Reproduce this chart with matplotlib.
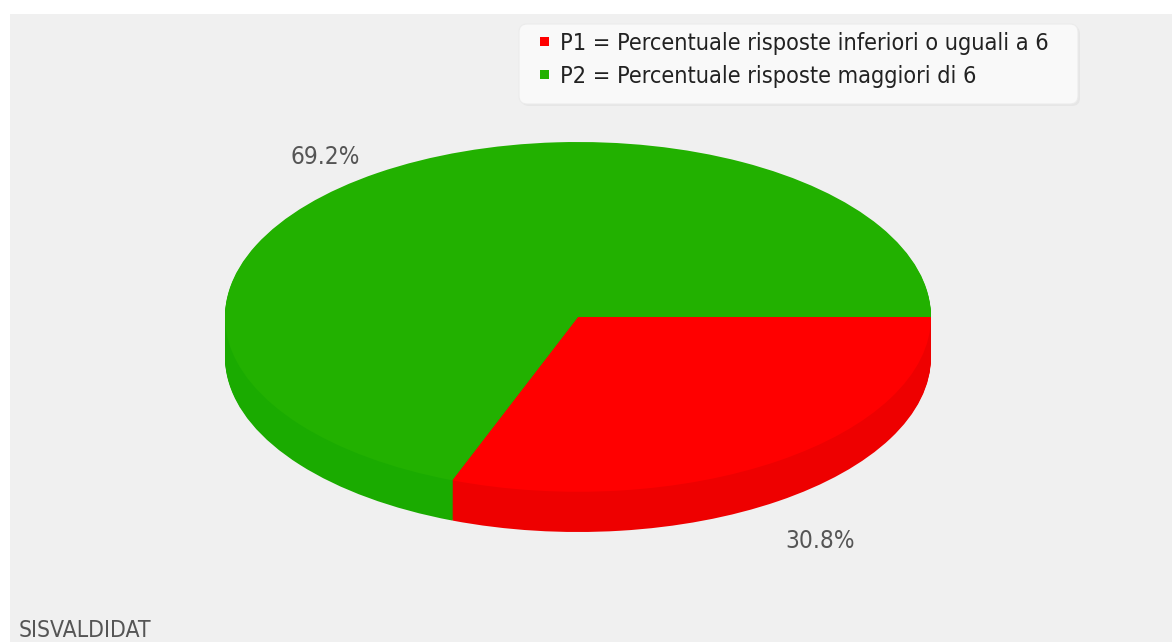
import numpy as np
import matplotlib
matplotlib.use("Agg")
import matplotlib.pyplot as plt
from matplotlib.patches import Rectangle, FancyBboxPatch

# dati del grafico
categorie = ["P1 = Percentuale risposte inferiori o uguali a 6",
             "P2 = Percentuale risposte maggiori di 6"]
percentuali = [30.8, 69.2]
colori = ["#ff0000", "#22b100"]
colori_lato = ["#ee0000", "#1aab00"]
etichette = ["30.8%", "69.2%"]
sorgente = "SISVALDIDAT"

W, H = 1172, 642
fig = plt.figure(figsize=(W / 100, H / 100), dpi=100)
fig.patch.set_facecolor("white")

# sfondo grigio del pannello
bg = fig.add_axes([0, 0, 1, 1])
bg.set_xlim(0, W)
bg.set_ylim(H, 0)
bg.axis("off")
bg.add_patch(Rectangle((10, 14), W - 10, H - 14, facecolor="#f0f0f0", edgecolor="none"))

# riquadro della legenda con ombra leggera
bg.add_patch(FancyBboxPatch((521, 26), 559, 80, boxstyle="round,pad=0,rounding_size=8",
                            facecolor="#e6e6e6", edgecolor="none"))
bg.add_patch(FancyBboxPatch((519, 24), 559, 80, boxstyle="round,pad=0,rounding_size=8",
                            facecolor="#f9f9f9", edgecolor="#ebebeb", linewidth=0.8))

font = dict(family="DejaVu Sans", stretch="condensed")

# torta "3d": spessore fatto impilando torte piu scure
spessore = 0.23
ax = fig.add_axes([225 / W, (H - 532) / H, 706 / W, 390 / H])
for k in np.linspace(spessore, 0.005, 40):
    ax.pie(percentuali, colors=colori_lato, startangle=0, counterclock=False,
           center=(0, -k), wedgeprops=dict(linewidth=0))
wedges, _ = ax.pie(percentuali, colors=colori, startangle=0, counterclock=False,
                   wedgeprops=dict(linewidth=0))
ax.set_aspect("auto")
ax.set_xlim(-1, 1)
ax.set_ylim(-1 - spessore, 1)
ax.axis("off")

# etichette percentuali
pos_etichette = [(0.686, -1.28), (-0.717, 0.914)]
for (x, y), testo in zip(pos_etichette, etichette):
    ax.text(x, y, testo, ha="center", va="center", fontsize=17.5, color="#555555",
            clip_on=False, **font)

leg = fig.legend(wedges, categorie, loc="upper left",
                 bbox_to_anchor=(540 / W, 1 - 32 / H), bbox_transform=fig.transFigure,
                 borderaxespad=0, borderpad=0, handlelength=0.38, handleheight=0.25,
                 handletextpad=0.48, labelspacing=0.42, frameon=False,
                 prop=dict(size=16.8, **font))
for t in leg.get_texts():
    t.set_color("#222222")

bg.text(19, 637, sorgente, ha="left", va="baseline", fontsize=16.5, color="#555555", **font)

fig.savefig("out.png", dpi=100)
